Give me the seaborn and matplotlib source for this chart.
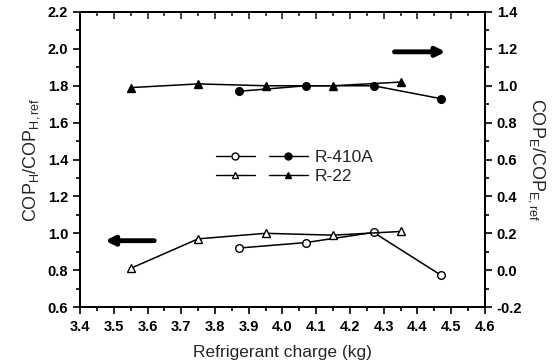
import matplotlib
matplotlib.use("Agg")
import matplotlib.pyplot as plt
import seaborn as sns
import pandas as pd
from matplotlib.lines import Line2D
from matplotlib.legend_handler import HandlerTuple
from matplotlib.ticker import MultipleLocator, FormatStrFormatter

# Data
x_r410a = [3.87, 4.07, 4.27, 4.47]
heat_r410a = [0.92, 0.95, 1.005, 0.773]   # left axis, open circles
cool_r410a = [0.97, 1.00, 1.00, 0.93]     # right axis, filled circles

x_r22 = [3.55, 3.75, 3.95, 4.15, 4.35]
heat_r22 = [0.81, 0.97, 1.00, 0.99, 1.01]  # left axis, open triangles
cool_r22 = [0.99, 1.01, 1.00, 1.00, 1.02]  # right axis, filled triangles

sns.set_theme(style="ticks")
plt.rcParams['font.family'] = ['Liberation Sans', 'DejaVu Sans']
plt.rcParams['mathtext.fontset'] = 'custom'
plt.rcParams['mathtext.rm'] = 'Liberation Sans'
plt.rcParams['mathtext.it'] = 'Liberation Sans'
plt.rcParams['mathtext.bf'] = 'Liberation Sans:bold'

fig = plt.figure(figsize=(5.56, 3.63), dpi=100)
ax = fig.add_axes([0.144, 0.154, 0.728, 0.813])
ax2 = ax.twinx()

df_h1 = pd.DataFrame({"x": x_r410a, "y": heat_r410a})
df_h2 = pd.DataFrame({"x": x_r22, "y": heat_r22})
df_c1 = pd.DataFrame({"x": x_r410a, "y": cool_r410a})
df_c2 = pd.DataFrame({"x": x_r22, "y": cool_r22})

kw = dict(color="black", linewidth=1.1, markersize=5.5, markeredgecolor="black", markeredgewidth=1.0)
sns.lineplot(data=df_h1, x="x", y="y", ax=ax, marker="o", markerfacecolor="white", **kw)
sns.lineplot(data=df_h2, x="x", y="y", ax=ax, marker="^", markerfacecolor="white", **kw)
sns.lineplot(data=df_c1, x="x", y="y", ax=ax2, marker="o", markerfacecolor="black", **kw)
sns.lineplot(data=df_c2, x="x", y="y", ax=ax2, marker="^", markerfacecolor="black", **kw)

ax.set_xlim(3.4, 4.6)
ax.set_ylim(0.6, 2.2)
ax2.set_ylim(-0.2, 1.4)

ax.xaxis.set_major_locator(MultipleLocator(0.1))
ax.xaxis.set_minor_locator(MultipleLocator(0.05))
ax.yaxis.set_major_locator(MultipleLocator(0.2))
ax.yaxis.set_minor_locator(MultipleLocator(0.1))
ax2.yaxis.set_major_locator(MultipleLocator(0.2))
ax2.yaxis.set_minor_locator(MultipleLocator(0.1))

ax.xaxis.set_major_formatter(FormatStrFormatter('%.1f'))
ax.yaxis.set_major_formatter(FormatStrFormatter('%.1f'))
ax2.yaxis.set_major_formatter(FormatStrFormatter('%.1f'))

for a in (ax, ax2):
    for s in a.spines.values():
        s.set_visible(True)
        s.set_linewidth(1.4)
        s.set_color("black")

ax.tick_params(axis='x', which='both', direction='out', bottom=True, top=False,
               labelsize=10.5, pad=4, width=1.2, colors='black')
ax.tick_params(axis='x', which='major', length=5)
ax.tick_params(axis='x', which='minor', length=3)
ax.tick_params(axis='y', which='both', direction='out', width=1.2, labelsize=10.5, colors='black')
ax.tick_params(axis='y', which='major', length=5)
ax.tick_params(axis='y', which='minor', length=3)
ax2.tick_params(axis='y', which='both', direction='out', width=1.2, labelsize=10.5, colors='black')
ax2.tick_params(axis='y', which='major', length=5)
ax2.tick_params(axis='y', which='minor', length=3)

# top ticks pointing inward
sec = ax.secondary_xaxis('top')
sec.xaxis.set_major_locator(MultipleLocator(0.1))
sec.xaxis.set_minor_locator(MultipleLocator(0.05))
sec.tick_params(axis='x', which='both', direction='in', labeltop=False, width=1.2)
sec.tick_params(axis='x', which='major', length=5)
sec.tick_params(axis='x', which='minor', length=3)
sec.spines['top'].set_linewidth(1.4)

for lbl in ax.get_xticklabels() + ax.get_yticklabels() + ax2.get_yticklabels():
    lbl.set_fontweight('bold')

ax.set_xlabel("Refrigerant charge (kg)", fontsize=12.5, labelpad=8)
ax.set_ylabel(r"COP$_\mathrm{H}$/COP$_\mathrm{H,ref}$", fontsize=13, labelpad=4)
ax2.set_ylabel(r"COP$_\mathrm{E}$/COP$_\mathrm{E,ref}$", fontsize=13, rotation=270, labelpad=18)

# Legend
h_oc = Line2D([], [], color='black', lw=1.0, marker='o', mfc='white', mec='black', ms=5)
h_fc = Line2D([], [], color='black', lw=1.0, marker='o', mfc='black', mec='black', ms=5)
h_ot = Line2D([], [], color='black', lw=1.0, marker='^', mfc='white', mec='black', ms=5)
h_ft = Line2D([], [], color='black', lw=1.0, marker='^', mfc='black', mec='black', ms=5)
ax.legend([(h_oc, h_fc), (h_ot, h_ft)], ["R-410A", "R-22"],
          handler_map={tuple: HandlerTuple(ndivide=None, pad=0.8)},
          loc='center', bbox_to_anchor=(0.53, 0.475), frameon=False,
          handlelength=5.3, fontsize=12.5, handletextpad=0.4, labelspacing=0.2)

# Direction arrows
ax.annotate("", xy=(0.055, 0.225), xytext=(0.19, 0.225), xycoords='axes fraction',
            arrowprops=dict(arrowstyle='-|>', color='black', lw=3.5, mutation_scale=13))
ax.annotate("", xy=(0.91, 0.865), xytext=(0.77, 0.865), xycoords='axes fraction',
            arrowprops=dict(arrowstyle='-|>', color='black', lw=3.5, mutation_scale=13))

fig.savefig("out.png", dpi=100)
